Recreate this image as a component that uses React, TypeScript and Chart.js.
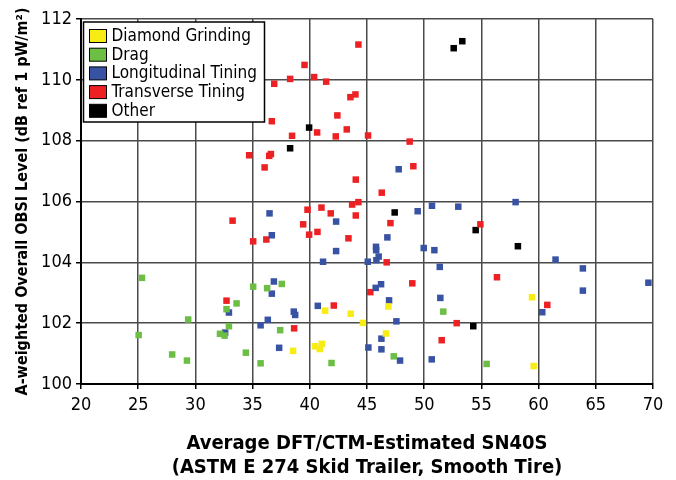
import React, { useEffect, useRef } from "react";
import { Chart, registerables } from "chart.js";

Chart.register(...registerables);

const FONT = "'Liberation Sans Narrow', 'Arial Narrow', 'DejaVu Sans Condensed', 'Liberation Sans', sans-serif";

const seriesNames = ["Diamond Grinding", "Drag", "Longitudinal Tining", "Transverse Tining", "Other"];
const seriesColors = ["#f7ec13", "#6dbe45", "#3953a4", "#ed2024", "#000000"];

const xTicks = [20, 25, 30, 35, 40, 45, 50, 55, 60, 65, 70];
const yTicks = [100, 102, 104, 106, 108, 110, 112];

const diamondX = [46.87, 41.34, 43.58, 44.64, 46.66, 40.46, 41.05, 40.87, 38.54, 59.42, 59.57];
const diamondY = [102.55, 102.41, 102.31, 102.01, 101.66, 101.24, 101.32, 101.15, 101.09, 102.85, 100.59];

const dragX = [25.33, 35.05, 36.27, 33.6, 32.72, 29.37, 32.93, 25.04, 32.15, 32.55, 34.41, 27.97, 29.26, 35.7, 37.55, 51.67, 37.41, 47.34, 41.9, 55.46];
const dragY = [103.49, 103.2, 103.15, 102.65, 102.46, 102.12, 101.9, 101.61, 101.65, 101.59, 101.03, 100.97, 100.77, 100.68, 103.29, 102.38, 101.77, 100.91, 100.69, 100.66];

const longX = [32.93, 35.7, 32.6, 36.48, 47.77, 42.3, 49.43, 50.68, 52.98, 36.68, 46.78, 45.79, 45.8, 49.96, 50.89, 42.3, 46.02, 45.82, 45.07, 41.16, 51.36, 36.86, 36.68, 46.23, 45.76, 46.93, 51.41, 40.7, 38.6, 38.72, 36.33, 47.57, 46.26, 37.32, 45.12, 46.26, 47.89, 50.66, 57.99, 61.48, 63.87, 69.6, 63.87, 60.32];
const longY = [102.35, 101.93, 101.69, 105.61, 107.06, 105.34, 105.68, 105.86, 105.83, 104.89, 104.82, 104.51, 104.4, 104.47, 104.4, 104.37, 104.19, 104.07, 104.02, 104.02, 103.85, 103.37, 102.97, 103.28, 103.16, 102.75, 102.83, 102.57, 102.38, 102.27, 102.11, 102.06, 101.49, 101.19, 101.2, 101.14, 100.77, 100.81, 105.98, 104.09, 103.8, 103.33, 103.07, 102.36];

const transX = [34.7, 36.05, 33.25, 35.05, 36.2, 32.72, 44.25, 39.54, 38.28, 40.38, 41.43, 36.89, 43.99, 43.55, 42.41, 36.68, 40.64, 43.23, 38.45, 42.27, 45.09, 48.73, 36.45, 36.6, 49.05, 44.02, 46.29, 39.8, 41.02, 41.83, 43.7, 44.25, 44.02, 47.05, 39.42, 40.67, 39.94, 43.38, 46.72, 45.29, 48.96, 42.1, 52.84, 38.63, 51.53, 54.91, 56.36, 60.76];
const transY = [107.52, 107.12, 105.37, 104.69, 104.75, 102.74, 111.16, 110.49, 110.03, 110.09, 109.94, 109.87, 109.52, 109.43, 108.83, 108.64, 108.27, 108.37, 108.16, 108.14, 108.17, 107.97, 107.5, 107.56, 107.16, 106.72, 106.29, 105.73, 105.8, 105.61, 105.9, 105.98, 105.54, 105.29, 105.25, 105.0, 104.91, 104.79, 104.0, 103.02, 103.31, 102.58, 102.0, 101.83, 101.44, 105.25, 103.51, 102.6];

const otherX = [53.33, 52.58, 39.94, 38.28, 47.42, 54.5, 58.19, 54.29];
const otherY = [111.27, 111.04, 108.43, 107.75, 105.64, 105.06, 104.53, 101.9];

const seriesX = [diamondX, dragX, longX, transX, otherX];
const seriesY = [diamondY, dragY, longY, transY, otherY];

const legendPlugin = {
  id: "boxLegend",
  afterDraw(chart: any) {
    const { ctx, chartArea } = chart;
    const left = chartArea.left + 2.5;
    const top = chartArea.top + 3;
    const w = 181;
    const h = 100;
    ctx.save();
    ctx.fillStyle = "#ffffff";
    ctx.fillRect(left, top, w, h);
    ctx.strokeStyle = "#000000";
    ctx.lineWidth = 1.5;
    ctx.strokeRect(left, top, w, h);
    ctx.font = "17px " + FONT;
    ctx.textBaseline = "middle";
    ctx.textAlign = "left";
    chart.data.datasets.forEach((ds: any, i: number) => {
      const cy = top + 14 + i * 18.7;
      ctx.fillStyle = ds.backgroundColor;
      ctx.fillRect(left + 6, cy - 6.5, 17, 13);
      ctx.strokeStyle = "#000000";
      ctx.lineWidth = 1;
      ctx.strokeRect(left + 6, cy - 6.5, 17, 13);
      ctx.fillStyle = "#000000";
      ctx.fillText(ds.label, left + 28, cy + 0.5);
    });
    ctx.restore();
  },
};

export default function App() {
  const ref = useRef<HTMLCanvasElement | null>(null);

  useEffect(() => {
    if (!ref.current) return;
    const datasets = seriesNames.map((name, i) => ({
      label: name,
      data: seriesX[i].map((x, j) => ({ x, y: seriesY[i][j] })),
      backgroundColor: seriesColors[i],
      borderColor: seriesColors[i],
      borderWidth: 0,
      pointStyle: "rect",
      pointRadius: 4.6,
      pointHoverRadius: 4.6,
    }));
    const chart = new Chart(ref.current, {
      type: "scatter",
      data: { datasets },
      plugins: [legendPlugin],
      options: {
        responsive: false,
        animation: false,
        devicePixelRatio: 1,
        layout: { padding: { top: 19, right: 23, left: 0, bottom: 0 } },
        plugins: {
          legend: { display: false },
          tooltip: { enabled: false },
        },
        scales: {
          x: {
            type: "linear",
            min: 20,
            max: 70,
            afterBuildTicks: (scale: any) => {
              scale.ticks = xTicks.map((v) => ({ value: v }));
            },
            afterFit: (scale: any) => {
              scale.height = 96;
            },
            ticks: {
              color: "#000000",
              font: { family: FONT, size: 18 },
              padding: 6,
              maxRotation: 0,
            },
            grid: {
              color: "#4a4a4a",
              lineWidth: 1.5,
              tickColor: "#000000",
              tickLength: 5,
              drawTicks: true,
            },
            border: { display: true, color: "#000000", width: 2 },
            title: {
              display: true,
              text: ["Average DFT/CTM-Estimated SN40S", "(ASTM E 274 Skid Trailer, Smooth Tire)"],
              color: "#000000",
              font: { family: FONT, size: 20, weight: "bold", lineHeight: 1.2 },
              padding: { top: 0, bottom: 0 },
            },
          },
          y: {
            type: "linear",
            min: 100,
            max: 112,
            afterBuildTicks: (scale: any) => {
              scale.ticks = yTicks.map((v) => ({ value: v }));
            },
            afterFit: (scale: any) => {
              scale.width = 81;
            },
            ticks: {
              color: "#000000",
              font: { family: FONT, size: 18 },
              padding: 4,
            },
            grid: {
              color: "#4a4a4a",
              lineWidth: 1.5,
              tickColor: "#000000",
              tickLength: 5,
              drawTicks: true,
            },
            border: { display: true, color: "#000000", width: 2 },
            title: {
              display: true,
              text: "A-weighted Overall OBSI Level (dB ref 1 pW/m²)",
              color: "#000000",
              font: { family: FONT, size: 16, weight: "bold", lineHeight: 1.2 },
              padding: { top: 13, bottom: 0 },
            },
          },
        },
      },
    } as any);
    return () => chart.destroy();
  }, []);

  return (
    <div style={{ position: "absolute", left: 0, top: 0, width: 676, height: 480, background: "#ffffff" }}>
      <canvas ref={ref} width={676} height={480} style={{ width: 676, height: 480, display: "block" }} />
    </div>
  );
}
